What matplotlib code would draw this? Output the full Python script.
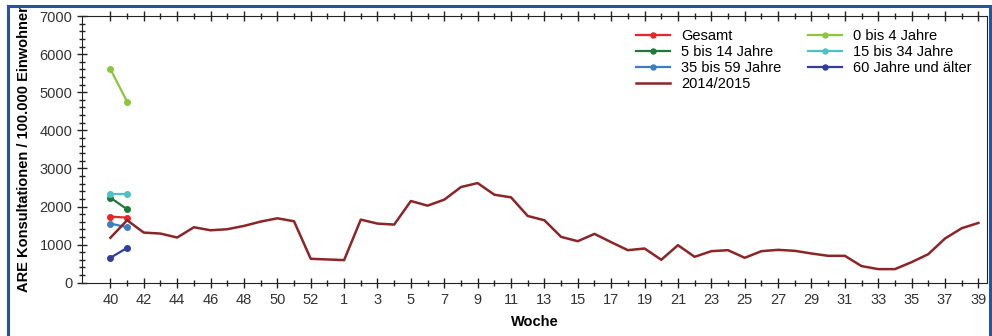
import numpy as np
import matplotlib.pyplot as plt
from matplotlib.patches import Rectangle
from matplotlib.ticker import MultipleLocator

plt.rcParams['font.family'] = ['Liberation Sans', 'DejaVu Sans']

# Achse: Kalenderwochen 40 bis 53, dann 1 bis 39
achse = list(range(40, 54)) + list(range(1, 40))

# Saison 2014/2015 hat keine Woche 53
wochen_2014 = list(range(40, 53)) + list(range(1, 40))
saison_2014 = [1180, 1640, 1316, 1290, 1186, 1456, 1377, 1404, 1491, 1604, 1691, 1613, 628,
               593, 1656, 1552, 1526, 2145, 2023, 2180, 2511, 2616, 2310, 2241, 1752, 1639,
               1203, 1090, 1282, 1064, 854, 898, 602, 985, 680, 828, 854, 654, 828, 863,
               837, 767, 706, 706, 436, 357, 357, 540, 750, 1160, 1430, 1569]

# aktuelle Saison (nur Woche 40 und 41)
wochen_neu = [40, 41]
gesamt = [1735, 1709]
alter_0_4 = [5606, 4752]
alter_5_14 = [2232, 1927]
alter_15_34 = [2337, 2337]
alter_35_59 = [1552, 1456]
alter_60 = [654, 915]

fig = plt.figure(figsize=(9.92, 3.36), dpi=100)
ax = fig.add_axes([0.0827, 0.1586, 0.912, 0.7936])

x_alt = [achse.index(w) for w in wochen_2014]
xa = [achse.index(w) for w in wochen_neu]

l_ges, = ax.plot(xa, gesamt, color='#e8262a', marker='o', ms=4, lw=1.6, label='Gesamt')
l_04, = ax.plot(xa, alter_0_4, color='#8cc63e', marker='o', ms=4, lw=1.6, label='0 bis 4 Jahre')
l_514, = ax.plot(xa, alter_5_14, color='#1f7a3a', marker='o', ms=4, lw=1.6, label='5 bis 14 Jahre')
l_1534, = ax.plot(xa, alter_15_34, color='#4fc0c3', marker='o', ms=4, lw=1.6, label='15 bis 34 Jahre')
l_3559, = ax.plot(xa, alter_35_59, color='#3b7fc0', marker='o', ms=4, lw=1.6, label='35 bis 59 Jahre')
l_60, = ax.plot(xa, alter_60, color='#2e3e9c', marker='o', ms=4, lw=1.6, label='60 Jahre und älter')
l_alt, = ax.plot(x_alt, saison_2014, color='#8c2527', lw=1.8, label='2014/2015')

ax.set_xlim(-1.7, 52.5)
ax.set_ylim(0, 7000)

# jede zweite Woche beschriftet: 40,42,...,52, 1,3,...,39
major = list(range(0, len(achse), 2))
ax.set_xticks(major)
ax.set_xticklabels([str(achse[i]) for i in major])
ax.set_xticks(range(len(achse)), minor=True)
ax.yaxis.set_major_locator(MultipleLocator(1000))
ax.yaxis.set_minor_locator(MultipleLocator(200))

ax.tick_params(axis='both', which='major', direction='inout', length=7, width=1,
               colors='#222222', labelsize=10.5, labelcolor='#333333')
ax.tick_params(axis='both', which='minor', direction='inout', length=4, width=1, colors='#222222')
ax.tick_params(axis='x', which='both', top=True)
ax.tick_params(axis='x', pad=4)

for s in ax.spines.values():
    s.set_color('#222222')

ax.set_xlabel('Woche', fontweight='bold', fontsize=10.5, labelpad=6)
ax.set_ylabel('ARE Konsultationen / 100.000 Einwohner', fontweight='bold', fontsize=10.5, labelpad=6)

handles = [l_ges, l_514, l_3559, l_alt, l_04, l_1534, l_60]
ax.legend(handles=handles, ncol=2, loc='upper right', bbox_to_anchor=(0.994, 0.99), frameon=False,
          fontsize=10.5, handlelength=2.3, handletextpad=0.75, labelspacing=0.13,
          columnspacing=1.85, borderaxespad=0.3, markerscale=0.9)

# blauer Rahmen
fig.patches.append(Rectangle((0.008, -0.1), 0.99, 1.081, transform=fig.transFigure,
                             fill=False, edgecolor='#2a52a0', lw=2.2))

fig.savefig('out.png', dpi=100)
